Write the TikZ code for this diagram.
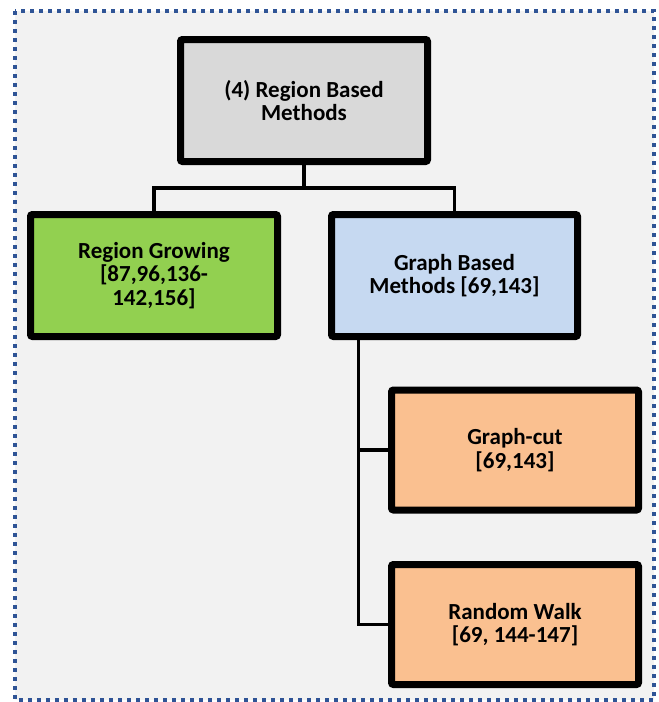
\documentclass[tikz,border=0pt]{standalone}
\usepackage{fontspec}
\setmainfont{Carlito}
\usetikzlibrary{shadows}
\definecolor{bgc}{HTML}{F2F2F2}
\definecolor{dotc}{HTML}{2F5496}
\definecolor{grayc}{HTML}{D9D9D9}
\definecolor{greenc}{HTML}{92D050}
\definecolor{bluec}{HTML}{C6D9F1}
\definecolor{orangec}{HTML}{FAC090}
\tikzset{
  box/.style={draw=black, line width=7pt, rounded corners=2pt,
    minimum width=247pt, minimum height=122pt, inner sep=0pt, outer sep=0pt,
    align=center, font=\fontsize{23}{23.5}\selectfont\bfseries, text=black,
    drop shadow={opacity=0.25, shadow xshift=2pt, shadow yshift=-2.5pt}},
  conn/.style={draw=black, line width=3.5pt},
  frame/.style={draw=dotc, line width=4pt, dash pattern=on 4pt off 5pt, fill=bgc}
}
\begin{document}
\begin{tikzpicture}[x=1pt, y=-1pt]
\useasboundingbox (0,0) rectangle (659,702);
\path[frame] (15,11) rectangle (654,700);
\node[box, fill=grayc] (top) at (304,100.5) {(4) Region Based\\Methods};
\node[box, fill=greenc] (rg) at (154,275.5) {Region Growing\\{}[87,96,136-\\142,156]};
\node[box, fill=bluec, minimum width=246pt] (gb) at (454.5,275.5) {Graph Based\\Methods [69,143]};
\node[box, fill=orangec, minimum height=120pt] (gc) at (515,450) {Graph-cut\\{}[69,143]};
\node[box, fill=orangec, minimum height=120pt] (rw) at (515,624.5) {Random Walk\\{}[69, 144-147]};
\coordinate (bar) at (304,188);
\draw[conn] (top.south) -- (bar);
\draw[conn] (rg.north) |- (bar) -| (gb.north);
\draw[conn] ([xshift=27pt]gb.south west) |- (gc.west);
\draw[conn] ([xshift=27pt]gb.south west) |- (rw.west);
\end{tikzpicture}
\end{document}
